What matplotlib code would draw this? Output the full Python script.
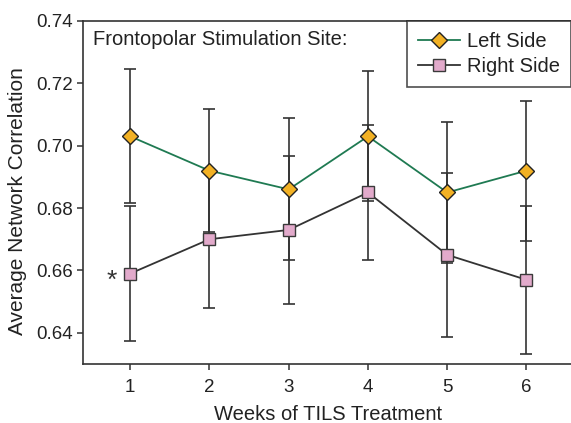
import matplotlib
matplotlib.use("Agg")
import matplotlib.pyplot as plt

plt.rcParams['font.family'] = ['Liberation Sans', 'DejaVu Sans']

# Data
weeks = [1, 2, 3, 4, 5, 6]
left_mean = [0.703, 0.692, 0.686, 0.703, 0.685, 0.692]
left_err = [0.0215, 0.0197, 0.0228, 0.0208, 0.0226, 0.0224]
right_mean = [0.659, 0.670, 0.673, 0.685, 0.665, 0.657]
right_err = [0.0216, 0.0222, 0.0237, 0.0217, 0.0264, 0.0238]
yticks = [0.64, 0.66, 0.68, 0.70, 0.72, 0.74]
ytick_labels = ['0.64', '0.66', '0.68', '0.70', '0.72', '0.74']

fig = plt.figure(figsize=(5.71, 4.23), dpi=100)
ax = fig.add_axes([0.1448, 0.1395, 0.8605, 0.8109])

dark = '#333333'
ax.errorbar(weeks, right_mean, yerr=right_err, fmt='none', ecolor=dark,
            elinewidth=1.2, capsize=4, capthick=1.2, zorder=2)
ax.errorbar(weeks, left_mean, yerr=left_err, fmt='none', ecolor=dark,
            elinewidth=1.2, capsize=4, capthick=1.2, zorder=2)

ax.plot(weeks, left_mean, color='#1f7a52', lw=1.3, marker='D', ms=7.8,
        markerfacecolor='#f2b124', markeredgecolor='#222222', mew=1.0,
        label='Left Side', zorder=3)
ax.plot(weeks, right_mean, color=dark, lw=1.3, marker='s', ms=8,
        markerfacecolor='#e2aacb', markeredgecolor='#3a3a3a', mew=1.0,
        label='Right Side', zorder=3)

# significance mark next to week 1
ax.text(0.77, right_mean[0] - 0.0047, '*', fontsize=19, color=dark,
        ha='center', va='baseline')

ax.set_xlim(0.4, 6.6)
ax.set_ylim(0.63, 0.74)
ax.set_xticks(weeks)
ax.set_yticks(yticks)
ax.set_yticklabels(ytick_labels)
ax.tick_params(axis='both', labelsize=13.5, colors=dark, labelcolor='#222222',
               length=4, width=1.1)
ax.tick_params(axis='x', pad=6.5)
ax.tick_params(axis='y', pad=3)
for s in ax.spines.values():
    s.set_color(dark)
    s.set_linewidth(1.2)

ax.set_xlabel('Weeks of TILS Treatment', fontsize=14.5, color='#222222', labelpad=6.5)
ax.set_ylabel('Average Network Correlation', fontsize=15, color='#222222')
ax.yaxis.set_label_coords(-0.113, 0.475)

ax.text(0.02, 0.945, 'Frontopolar Stimulation Site:', transform=ax.transAxes,
        fontsize=14.5, color='#222222', va='center', ha='left')

leg = ax.legend(loc='upper right', bbox_to_anchor=(1.0, 0.9504), bbox_transform=fig.transFigure,
                borderaxespad=0.0, fontsize=14.5, frameon=True, fancybox=False,
                edgecolor='#222222', handlelength=2.1, handletextpad=0.35,
                labelspacing=0.28, borderpad=0.55)
leg.get_frame().set_linewidth(1.2)
for t in leg.get_texts():
    t.set_color('#222222')

fig.savefig('out.png', dpi=100)
